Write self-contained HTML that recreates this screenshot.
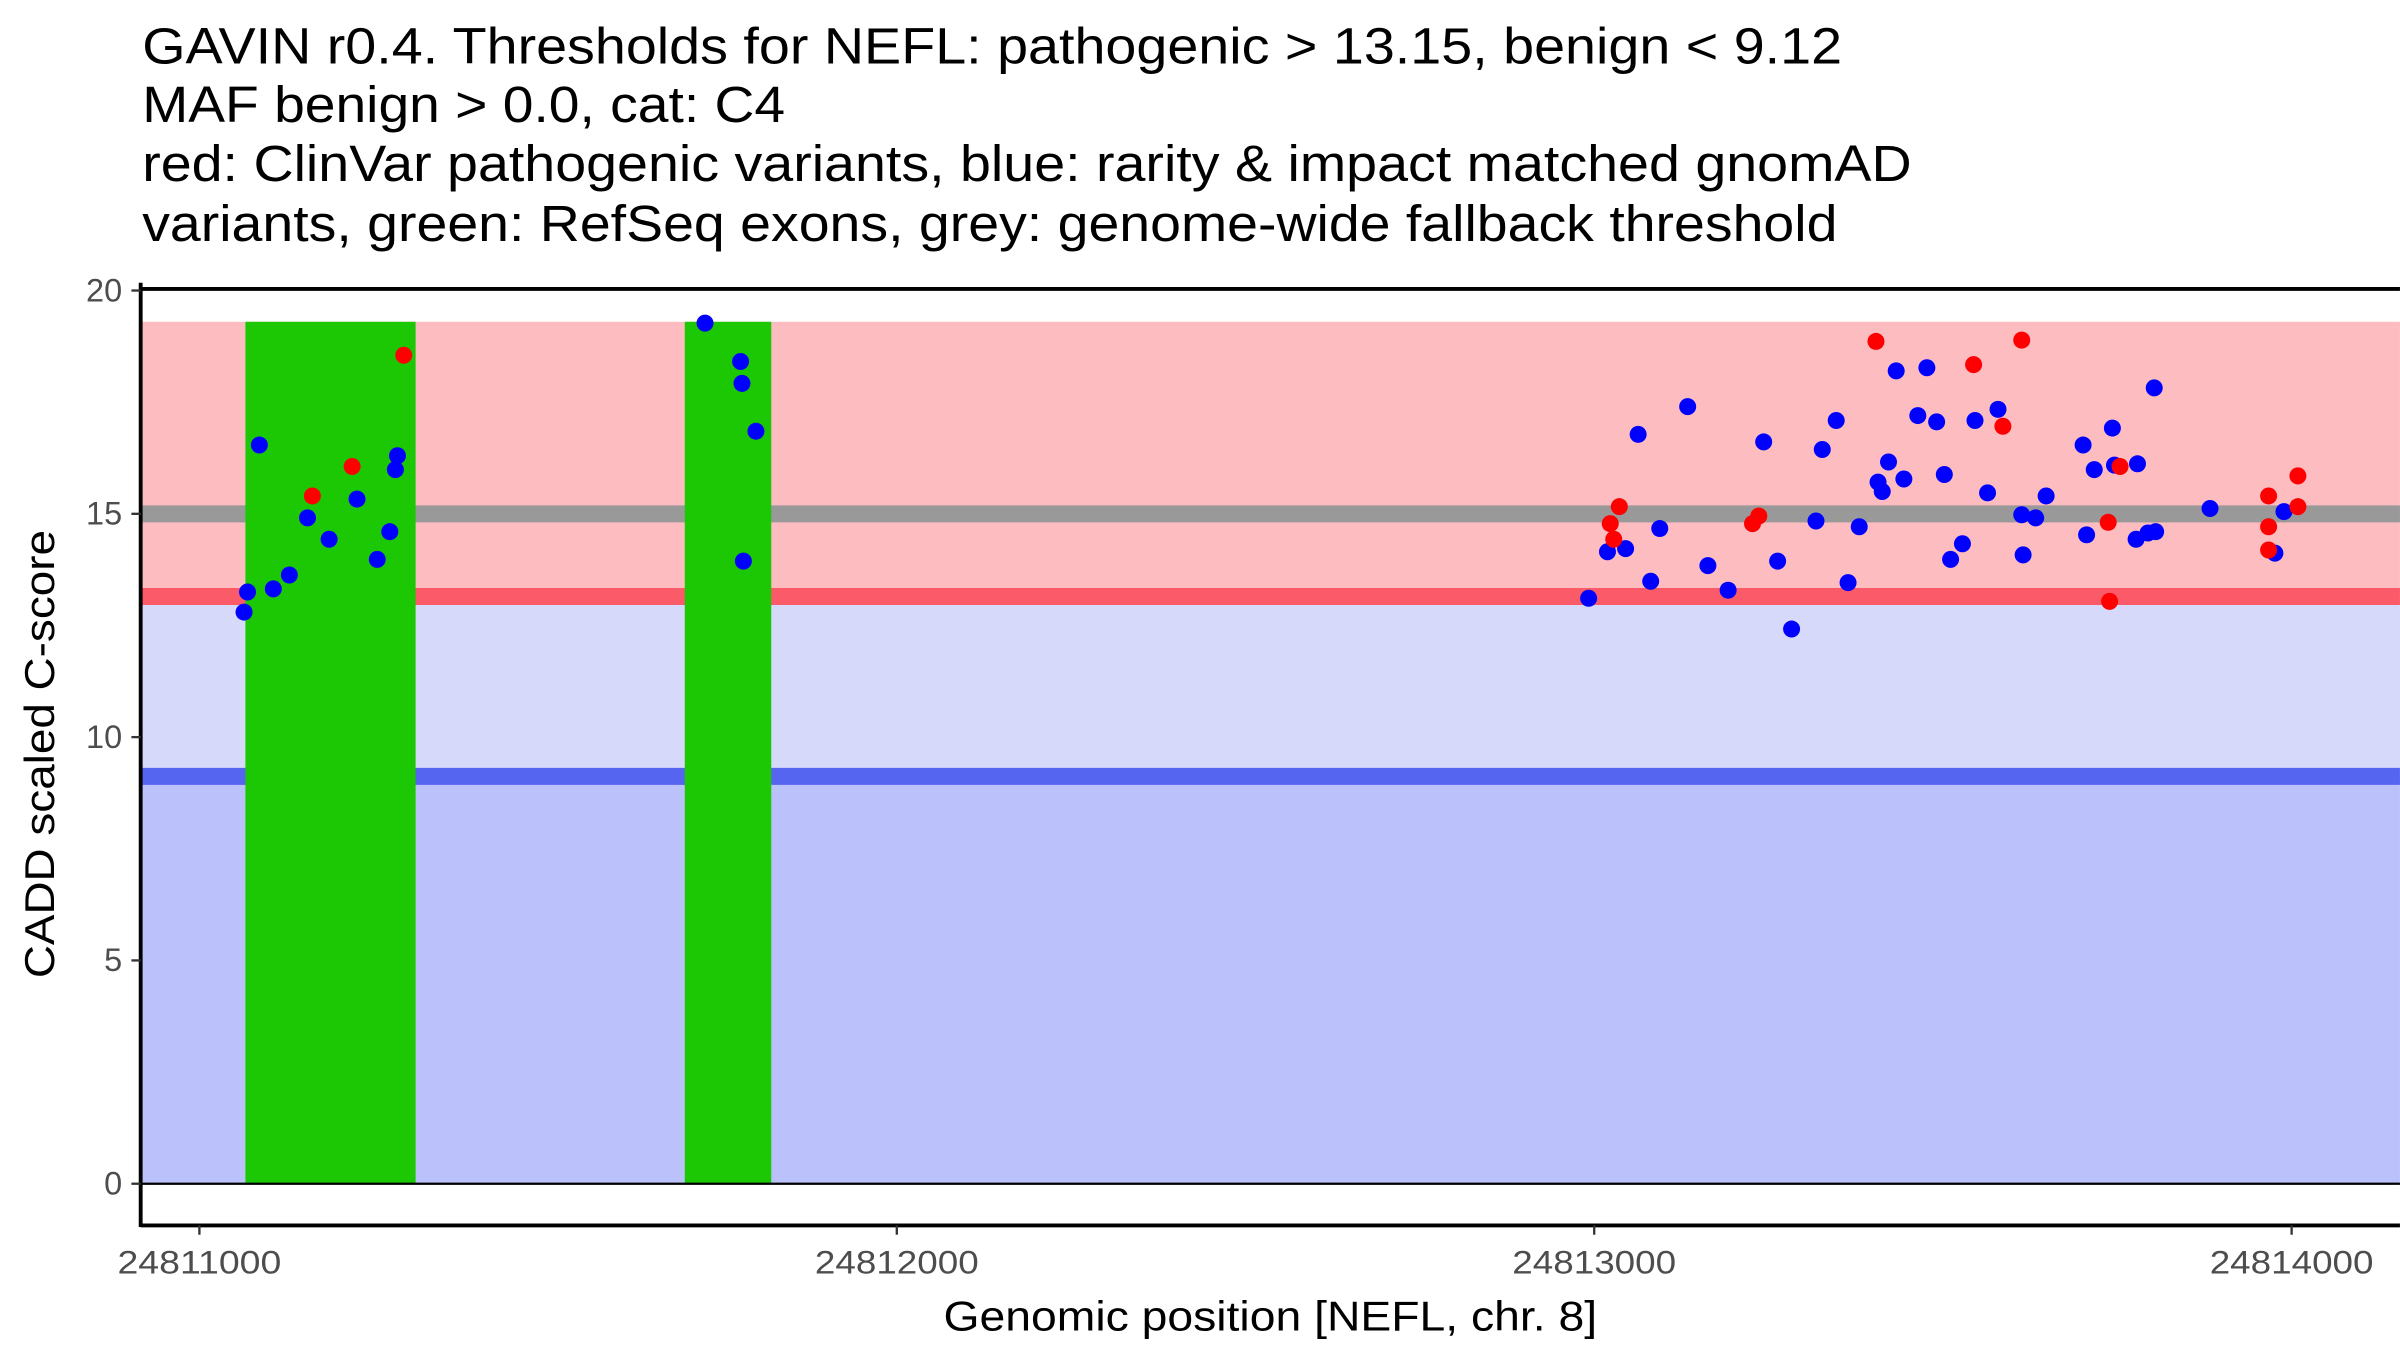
<!DOCTYPE html>
<html><head><meta charset="utf-8"><style>html,body{margin:0;padding:0;background:#fff}svg{display:block}text{font-family:"Liberation Sans",sans-serif}</style></head>
<body>
<svg id="chart" width="2400" height="1350" viewBox="0 0 1553 873.6" xmlns="http://www.w3.org/2000/svg">
<g font-size="33" fill="#000" lengthAdjust="spacingAndGlyphs">
<text x="92" y="41" textLength="1100" lengthAdjust="spacingAndGlyphs">GAVIN r0.4. Thresholds for NEFL: pathogenic &gt; 13.15, benign &lt; 9.12</text>
<text x="92" y="79" textLength="416" lengthAdjust="spacingAndGlyphs">MAF benign &gt; 0.0, cat: C4</text>
<text x="92" y="117" textLength="1145" lengthAdjust="spacingAndGlyphs">red: ClinVar pathogenic variants, blue: rarity &amp; impact matched gnomAD</text>
<text x="92" y="156" textLength="1097" lengthAdjust="spacingAndGlyphs">variants, green: RefSeq exons, grey: genome-wide fallback threshold</text>
</g>
<g id="plot"></g>
<text transform="translate(35,488) rotate(-90)" text-anchor="middle" font-size="27" textLength="290" lengthAdjust="spacingAndGlyphs">CADD scaled C-score</text>
<text x="822" y="861" text-anchor="middle" font-size="27" textLength="423" lengthAdjust="spacingAndGlyphs">Genomic position [NEFL, chr. 8]</text>
</svg>
<script>
const base = 24811000;
const xTicks = [24811000, 24812000, 24813000, 24814000];
const yTicks = [0, 5, 10, 15, 20];
const pathoThr = 13.15, benignThr = 9.12, fallbackThr = 15, bandTop = 19.3;
const exonStarts = [24811066, 24811696];
const exonEnds = [24811310, 24811820];
const blueOffsets = [69,64,86,106,129,155,186,226,255,273,281,284,725,776,778,798,780,1992,2019,2045,2063,2081,2094,2134,2163,2192,2243,2263,2283,2318,2327,2347,2364,2380,2407,2413,2422,2433,2444,2464,2477,2491,2502,2511,2528,2546,2564,2579,2613,2615,2633,2648,2701,2706,2717,2743,2746,2777,2779,2794,2805,2803,2883,2976,2989];
const blueScores = [13.25,12.80,16.54,13.32,13.63,14.91,14.43,15.33,13.98,14.60,15.99,16.30,19.27,18.41,17.92,16.85,13.94,13.11,14.15,14.22,16.78,13.49,14.67,17.40,13.84,13.29,16.61,13.94,12.42,14.84,16.44,17.09,13.46,14.71,15.71,15.50,16.16,18.20,15.78,17.20,18.27,17.06,15.88,13.98,14.33,17.09,15.47,17.34,14.98,14.08,14.91,15.40,16.54,14.53,15.99,16.92,16.09,14.43,16.12,14.57,14.60,17.82,15.12,14.12,15.05];
const redOffsets = [162,219,293,2023,2028,2036,2227,2236,2404,2544,2586,2613,2737,2739,2754,2967,2967,2967,3009,3009];
const redScores = [15.40,16.06,18.55,14.78,14.43,15.16,14.78,14.95,18.86,18.34,16.96,18.89,14.81,13.04,16.06,15.40,14.71,14.19,15.85,15.16];

const L=91, R=1553, T=187, B=793;
const X = v => 129 + (v - 24811000) * 0.4513;
const Y = v => 766 - v * 28.9;
const NS='http://www.w3.org/2000/svg';
const g=document.getElementById('plot');
function mk(tag, attrs){const e=document.createElementNS(NS,tag);for(const k in attrs)e.setAttribute(k,attrs[k]);g.appendChild(e);return e;}
let e;
e=mk('rect',{x:L,y:Y(bandTop),width:R-L,height:Y(pathoThr)-Y(bandTop),fill:'#fcbcc0'});


e=mk('rect',{x:L,y:Y(pathoThr),width:R-L,height:Y(benignThr)-Y(pathoThr),fill:'#d7d9fb'});


e=mk('rect',{x:L,y:Y(benignThr),width:R-L,height:Y(0)-Y(benignThr),fill:'#bbc1fa'});


e=mk('line',{x1:L,x2:R,y1:Y(fallbackThr),y2:Y(fallbackThr),stroke:'#999999','stroke-width':11});


e=mk('line',{x1:L,x2:R,y1:Y(pathoThr),y2:Y(pathoThr),stroke:'#fb5a68','stroke-width':11});


e=mk('line',{x1:L,x2:R,y1:Y(benignThr),y2:Y(benignThr),stroke:'#5565ef','stroke-width':11});


for(let i=0;i<exonStarts.length;i++){
  e=mk('rect',{x:X(exonStarts[i]),y:Y(bandTop),width:X(exonEnds[i])-X(exonStarts[i]),height:Y(0)-Y(bandTop),fill:'#1cc704'});
  
  
}
e=mk('line',{x1:L,x2:R,y1:Y(0),y2:Y(0),stroke:'#000','stroke-width':1.5});


for(let i=0;i<blueOffsets.length;i++){
  e=mk('circle',{cx:X(base+blueOffsets[i]),cy:Y(blueScores[i]),r:5.5,fill:'#0000ff'});
  
  
}
for(let i=0;i<redOffsets.length;i++){
  e=mk('circle',{cx:X(base+redOffsets[i]),cy:Y(redScores[i]),r:5.5,fill:'#ff0000'});
  
  
}
e=mk('line',{x1:L,x2:R,y1:T,y2:T,stroke:'#000','stroke-width':2.5});


e=mk('line',{x1:L,x2:L,y1:183,y2:B+1,stroke:'#000','stroke-width':2.5});


e=mk('line',{x1:L,x2:R,y1:B,y2:B,stroke:'#000','stroke-width':2.5});


for(const t of yTicks){
  e=mk('line',{x1:85,x2:L,y1:Y(t),y2:Y(t),stroke:'#333','stroke-width':1.5});
  
  
  e=mk('text',{x:79,y:Y(t)+7,'text-anchor':'end','font-size':21,fill:'#4d4d4d'});
  e.textContent=t;
  
  
}
for(const t of xTicks){
  e=mk('line',{x1:X(t),x2:X(t),y1:B,y2:B+6,stroke:'#333','stroke-width':1.5});
  
  
  e=mk('text',{x:X(t),y:824,'text-anchor':'middle','font-size':21,fill:'#4d4d4d',textLength:106,lengthAdjust:'spacingAndGlyphs'});
  e.textContent=t;
  
  
}
</script>
</body></html>
